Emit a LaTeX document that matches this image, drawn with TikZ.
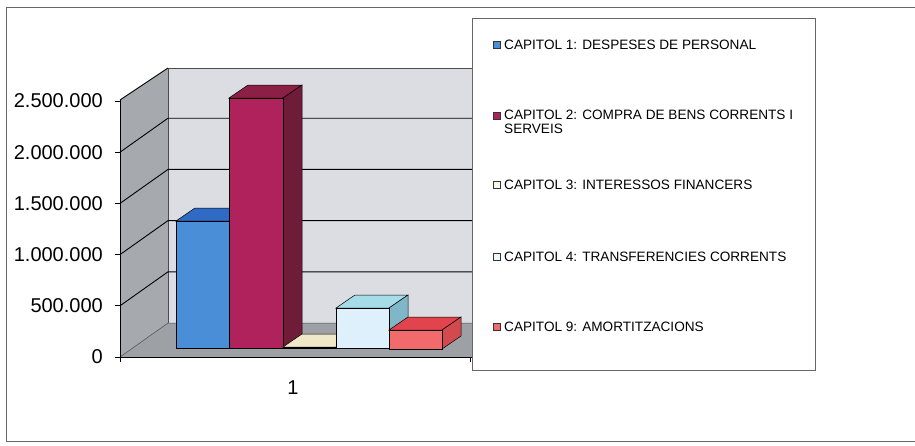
\documentclass[tikz,border=0pt]{standalone}
\usepackage{fontspec}
\setmainfont{Liberation Sans}
\definecolor{wallback}{HTML}{DCDDE2}
\definecolor{wallside}{HTML}{A6AAAF}
\definecolor{floorc}{HTML}{9DA1A6}
\definecolor{bluef}{HTML}{4A8ED8}
\definecolor{bluet}{HTML}{2F6BC4}
\definecolor{blues}{HTML}{2A5CA8}
\definecolor{marf}{HTML}{B0225C}
\definecolor{mart}{HTML}{8C1F45}
\definecolor{mars}{HTML}{6E1C38}
\definecolor{crmf}{HTML}{F2EBC8}
\definecolor{crmt}{HTML}{F0E8C6}
\definecolor{crms}{HTML}{D8D0AA}
\definecolor{ltbf}{HTML}{DDF0FB}
\definecolor{ltbt}{HTML}{A6DCE8}
\definecolor{ltbs}{HTML}{7FB6C8}
\definecolor{redf}{HTML}{F26A6C}
\definecolor{redt}{HTML}{E2444E}
\definecolor{reds}{HTML}{D24A4E}
\newcommand\tdbar[7]{%
  % #1 x0, #2 x1, #3 top y, #4 bottom y, #5 front, #6 top, #7 side
  \filldraw[fill=#6,draw=black,line width=0.5pt] (#1,#3) -- ++(19,-13) -- (#2+19,#3-13) -- (#2,#3) -- cycle;
  \filldraw[fill=#7,draw=black,line width=0.5pt] (#2,#3) -- (#2+19,#3-13) -- (#2+19,#4-13) -- (#2,#4) -- cycle;
  \filldraw[fill=#5,draw=black,line width=0.5pt] (#1,#4) rectangle (#2,#3);
}
\tikzset{
  ylab/.style={anchor=east,font=\fontsize{20}{22}\selectfont,inner sep=0pt},
  legtext/.style={anchor=west,font=\fontsize{13.6}{14.5}\selectfont,inner sep=0pt,align=left},
  legmark/.style={draw=black!80,line width=0.6pt,minimum size=7.5pt,inner sep=0pt},
  grid/.style={black,line width=0.9pt}
}
\begin{document}
\begin{tikzpicture}[x=1pt,y=-1pt]
\useasboundingbox (0,0) rectangle (915,445);
\fill[white] (0,0) rectangle (915,445);
% outer frame
\draw[black!60,line width=0.8pt] (915,7) -- (6,7) -- (6,441) -- (915,441);
% walls
\fill[wallback] (168,68) rectangle (475,323);
\fill[wallside] (120,100) -- (168,68) -- (168,323) -- (120,357) -- cycle;
\fill[floorc] (120,357) -- (168,323) -- (475,323) -- (475,357) -- cycle;
\draw[black!70,line width=0.5pt] (168,68) -- (168,323);
\draw[black!70,line width=0.5pt] (168,68) -- (475,68);
% gridlines
\foreach \v in {1,2,3,4}{
  \draw[grid] (120,357-\v*51.2) -- (168,323-\v*51.2) -- (475,323-\v*51.2);
}
\draw[grid] (120,100) -- (168,68);
\draw[black!70,line width=0.5pt] (120,357) -- (168,323) -- (475,323);
% axes
\draw[black,line width=0.9pt] (120,100) -- (120,357) -- (472,357);
\foreach \v in {0,...,5}{
  \draw[black,line width=0.8pt] (115,357-\v*51.2) -- (120,357-\v*51.2);
}
\draw[black,line width=0.8pt] (120,357) -- (120,362);
\draw[black,line width=0.8pt] (470,357) -- (470,362);
% tick labels
\node[ylab] (l0) at (103,357) {0};
\node[ylab] (l1) at (103,305.8) {500.000};
\node[ylab] (l2) at (103,254.6) {1.000.000};
\node[ylab] (l3) at (103,203.4) {1.500.000};
\node[ylab] (l4) at (103,152.2) {2.000.000};
\node[ylab] (l5) at (103,101) {2.500.000};
\node[font=\fontsize{20}{22}\selectfont,inner sep=0pt] (cat) at (293,388) {1};
% bars
\tdbar{176}{229}{221}{348}{bluef}{bluet}{blues}
\tdbar{229}{283}{98}{348}{marf}{mart}{mars}
\tdbar{283}{336}{347}{348}{crmf}{crmt}{crms}
\tdbar{336}{389}{308}{348}{ltbf}{ltbt}{ltbs}
\tdbar{389}{442}{330}{349}{redf}{redt}{reds}
% legend
\draw[fill=white,draw=black!60,line width=0.8pt] (472,18) rectangle (815,370);
\node[legmark,fill=bluef] (m1) at (497,45) {};
\node[legtext] (t1) at (504,45) {CAPITOL 1: DESPESES DE PERSONAL};
\node[legmark,fill=marf] (m2) at (497,116) {};
\node[legtext,anchor=north west] (t2) at (504,109.5) {CAPITOL 2: COMPRA DE BENS CORRENTS I\\SERVEIS};
\node[legmark,fill=crmf!40] (m3) at (497,185) {};
\node[legtext] (t3) at (504,185) {CAPITOL 3: INTERESSOS FINANCERS};
\node[legmark,fill=ltbf!60] (m4) at (497,257) {};
\node[legtext] (t4) at (504,257) {CAPITOL 4: TRANSFERENCIES CORRENTS};
\node[legmark,fill=redf] (m5) at (497,327) {};
\node[legtext] (t5) at (504,327) {CAPITOL 9: AMORTITZACIONS};
\end{tikzpicture}
\end{document}
